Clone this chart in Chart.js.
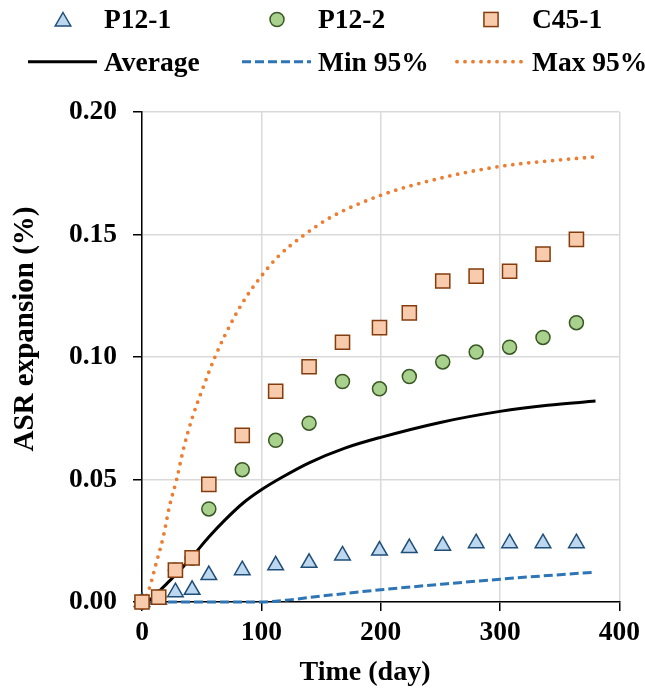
<!DOCTYPE html>
<html>
<head>
<meta charset="utf-8">
<script src="https://cdn.jsdelivr.net/npm/chart.js@4.4.0/dist/chart.umd.min.js"></script>
<style>
  html, body { margin: 0; padding: 0; background: #fff; }
  #wrap { position: relative; width: 645px; height: 688px; }
  #overlay { position: absolute; left: 0; top: 0; pointer-events: none; }
  #overlay text { font-family: "Liberation Serif", "Times New Roman", serif; font-weight: bold; fill: #000; }
</style>
</head>
<body>
<div id="wrap">
  <canvas id="myChart" width="645" height="688"></canvas>
  <svg id="overlay" width="645" height="688"></svg>
</div>
<script>
// measured specimens (day -> expansion %)
const sampleDays = [0, 14, 28, 42, 56, 84, 112, 140, 168, 199, 224, 252, 280, 308, 336, 364];
const p12_1 = [0, 0.001, 0.004, 0.005, 0.011, 0.013, 0.015, 0.016, 0.019, 0.021, 0.022, 0.023, 0.024, 0.024, 0.024, 0.024];
const p12_2 = [0, 0.002, 0.013, 0.018, 0.038, 0.054, 0.066, 0.073, 0.090, 0.087, 0.092, 0.098, 0.102, 0.104, 0.108, 0.114];
const c45_1 = [0, 0.002, 0.013, 0.018, 0.048, 0.068, 0.086, 0.096, 0.106, 0.112, 0.118, 0.131, 0.133, 0.135, 0.142, 0.148];

// fitted curves
const avgDays = [0, 7, 14, 21, 28, 42, 56, 70, 85, 100, 117, 140, 170, 200, 250, 300, 340, 380];
const avgVals = [0, 0.001, 0.0042, 0.0076, 0.011, 0.0185, 0.0265, 0.0337, 0.0405, 0.0458, 0.0508, 0.0568, 0.0628, 0.0672, 0.0733, 0.0778, 0.0803, 0.082];
const minDays = [0, 50, 100, 120, 150, 200, 250, 300, 340, 380];
const minVals = [0, 0, 0, 0.0007, 0.0024, 0.005, 0.0072, 0.0093, 0.0108, 0.0122];
const maxDays = [0, 5, 12, 18, 23, 29, 35, 42, 50, 62, 77, 88, 100, 114, 135, 158, 200, 250, 300, 340, 380];
const maxVals = [0, 0.004, 0.016, 0.027, 0.039, 0.050, 0.063, 0.075, 0.086, 0.101, 0.116, 0.125, 0.133, 0.141, 0.1495, 0.157, 0.166, 0.173, 0.1778, 0.180, 0.1817];

const xTicks = [0, 100, 200, 300, 400];
const yTicks = [0, 0.05, 0.10, 0.15, 0.20];

const FONT = '"Liberation Serif", "Times New Roman", serif';
const toXY = (xs, ys) => xs.map((x, i) => ({ x: x, y: ys[i] }));

const datasets = [
    {
        label: 'P12-1', data: toXY(sampleDays, p12_1), showLine: false,
        pointStyle: 'triangle', pointRadius: 9, pointBorderWidth: 1.5,
        backgroundColor: '#bdd7ee', borderColor: '#1f4e79', order: 2, clip: false
    },
    {
        label: 'P12-2', data: toXY(sampleDays, p12_2), showLine: false,
        pointStyle: 'circle', pointRadius: 7, pointBorderWidth: 1.5,
        backgroundColor: '#a9d18e', borderColor: '#385723', order: 1, clip: false
    },
    {
        label: 'C45-1', data: toXY(sampleDays, c45_1), showLine: false,
        pointStyle: 'rect', pointRadius: 10, pointBorderWidth: 1.5,
        backgroundColor: '#f8cbad', borderColor: '#843c0c', order: 0, clip: false
    },
    {
        label: 'Average', data: toXY(avgDays, avgVals), showLine: true,
        pointRadius: 0, borderColor: '#000000', borderWidth: 3,
        cubicInterpolationMode: 'monotone', order: 3, clip: false
    },
    {
        label: 'Min 95%', data: toXY(minDays, minVals), showLine: true,
        pointRadius: 0, borderColor: '#2e75b6', borderWidth: 3, borderDash: [9, 4],
        cubicInterpolationMode: 'monotone', order: 4, clip: false
    },
    {
        label: 'Max 95%', data: toXY(maxDays, maxVals), showLine: true,
        pointRadius: 0, borderColor: '#ed7d31', borderWidth: 3.8, borderDash: [0, 8],
        borderCapStyle: 'round', cubicInterpolationMode: 'monotone', order: 5, clip: false
    }
];

const ctx = document.getElementById('myChart').getContext('2d');
const chart = new Chart(ctx, {
    type: 'scatter',
    data: { datasets: datasets },
    options: {
        responsive: false,
        animation: false,
        events: [],
        layout: { padding: { top: 112, right: 20, left: 0, bottom: 0 } },
        plugins: { legend: { display: false }, tooltip: { enabled: false } },
        scales: {
            x: {
                type: 'linear', min: xTicks[0], max: xTicks[xTicks.length - 1],
                afterFit: (scale) => { scale.height = 86; },
                afterBuildTicks: (scale) => { scale.ticks = xTicks.map(v => ({ value: v })); },
                grid: { color: '#d9d9d9', lineWidth: 1.5, tickColor: '#000', tickLength: 9 },
                border: { color: '#000', width: 1.5 },
                ticks: { color: '#000', padding: 5, font: { family: FONT, size: 27.5, weight: 'bold' } }
            },
            y: {
                type: 'linear', min: yTicks[0], max: yTicks[yTicks.length - 1],
                afterFit: (scale) => { scale.width = 142; },
                afterBuildTicks: (scale) => { scale.ticks = yTicks.map(v => ({ value: v })); },
                grid: { color: '#d9d9d9', lineWidth: 1.5, tickColor: '#000', tickLength: 9 },
                border: { color: '#000', width: 1.5 },
                ticks: {
                    color: '#000', padding: 16, font: { family: FONT, size: 27.5, weight: 'bold' },
                    callback: (v) => Number(v).toFixed(2)
                }
            }
        }
    }
});

// legend + axis titles as svg text over the canvas
const svgNS = 'http://www.w3.org/2000/svg';
const overlay = document.getElementById('overlay');
function addEl(tag, attrs, text) {
    const el = document.createElementNS(svgNS, tag);
    for (const k in attrs) el.setAttribute(k, attrs[k]);
    if (text) el.textContent = text;
    overlay.appendChild(el);
    return el;
}

const colX = [63, 277, 491];
const textX = [104, 318, 532];
const lineX = [[28, 97], [242, 311], [457, 525]];

datasets.forEach((ds, i) => {
    const col = i % 3;
    if (i < 3) {
        const cx = colX[col], cy = 19.5;
        const stroke = { fill: ds.backgroundColor, stroke: ds.borderColor, 'stroke-width': 1.5 };
        if (ds.pointStyle === 'triangle') {
            const r = ds.pointRadius, c = cy + 2;
            addEl('polygon', Object.assign({
                points: `${cx},${c - r} ${cx + 0.866 * r},${c + 0.5 * r} ${cx - 0.866 * r},${c + 0.5 * r}`
            }, stroke));
        } else if (ds.pointStyle === 'circle') {
            addEl('circle', Object.assign({ cx: cx, cy: cy, r: ds.pointRadius }, stroke));
        } else {
            const h = ds.pointRadius * Math.SQRT1_2;
            addEl('rect', Object.assign({ x: cx - h, y: cy - h, width: 2 * h, height: 2 * h }, stroke));
        }
        addEl('text', { x: textX[col], y: 28, 'font-size': 27.5 }, ds.label);
    } else {
        const attrs = {
            x1: lineX[col][0], x2: lineX[col][1], y1: 61.7, y2: 61.7,
            stroke: ds.borderColor, 'stroke-width': ds.borderWidth
        };
        if (ds.borderDash) attrs['stroke-dasharray'] = ds.borderDash.join(' ');
        if (ds.borderCapStyle === 'round') attrs['stroke-linecap'] = 'round';
        addEl('line', attrs);
        addEl('text', { x: textX[col], y: 70.5, 'font-size': 27.5 }, ds.label);
    }
});

addEl('text', { x: 365, y: 680, 'font-size': 28, 'text-anchor': 'middle' }, 'Time (day)');
addEl('text', { x: 0, y: 0, 'font-size': 29, 'text-anchor': 'middle', transform: 'translate(33,329) rotate(-90)' }, 'ASR expansion (%)');
</script>
</body>
</html>
